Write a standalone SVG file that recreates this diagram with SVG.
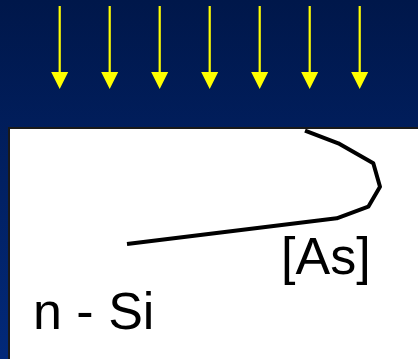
<svg xmlns="http://www.w3.org/2000/svg" width="418" height="359" viewBox="0 0 418 359">
<defs>
<linearGradient id="bg" x1="0" y1="0" x2="0" y2="1">
<stop offset="0" stop-color="#00174a"/>
<stop offset="1" stop-color="#02297a"/>
</linearGradient>
<style>
.arr{stroke:#ffff00;stroke-width:2.2;fill:none}
.head{fill:#ffff00}
.lbl{font-family:"Liberation Sans",Arial,sans-serif;fill:#000}
</style>
</defs>
<rect x="0" y="0" width="418" height="359" fill="url(#bg)"/>
<g id="wafer">
<rect x="9" y="128" width="420" height="240" fill="#ffffff" stroke="#1a1a1a" stroke-width="2"/>
</g>
<g id="implant-arrows">
<line class="arr" x1="59.7" y1="6" x2="59.7" y2="73"/>
<path class="head" d="M51.2,72 L68.2,72 L59.7,89 Z"/>
<line class="arr" x1="109.7" y1="6" x2="109.7" y2="73"/>
<path class="head" d="M101.2,72 L118.2,72 L109.7,89 Z"/>
<line class="arr" x1="159.7" y1="6" x2="159.7" y2="73"/>
<path class="head" d="M151.2,72 L168.2,72 L159.7,89 Z"/>
<line class="arr" x1="209.7" y1="6" x2="209.7" y2="73"/>
<path class="head" d="M201.2,72 L218.2,72 L209.7,89 Z"/>
<line class="arr" x1="259.7" y1="6" x2="259.7" y2="73"/>
<path class="head" d="M251.2,72 L268.2,72 L259.7,89 Z"/>
<line class="arr" x1="309.7" y1="6" x2="309.7" y2="73"/>
<path class="head" d="M301.2,72 L318.2,72 L309.7,89 Z"/>
<line class="arr" x1="359.7" y1="6" x2="359.7" y2="73"/>
<path class="head" d="M351.2,72 L368.2,72 L359.7,89 Z"/>
</g>
<g id="profile">
<polyline points="305,130.7 338.3,143.3 373.3,163.3 380,186.7 368.3,206.7 336.7,218.3 127,244" fill="none" stroke="#000" stroke-width="4" stroke-linejoin="round"/>
</g>
<g id="label-as">
<text class="lbl" x="281" y="274" font-size="52">[As]</text>
</g>
<g id="label-nsi">
<text class="lbl" x="33" y="329" font-size="52">n - Si</text>
</g>
</svg>
